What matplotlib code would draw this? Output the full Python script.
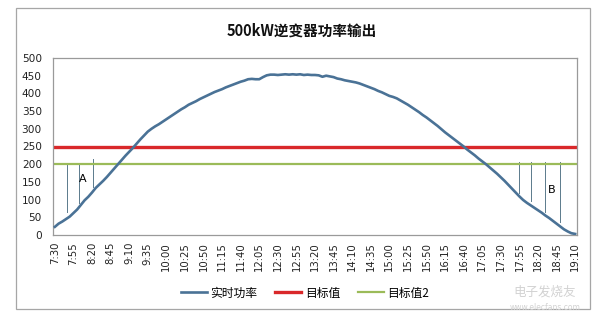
import matplotlib
matplotlib.use("Agg")
import matplotlib.pyplot as plt
from matplotlib.patches import Rectangle

plt.rcParams['font.family'] = ['Noto Sans CJK SC', 'DejaVu Sans']

# 5-minute samples from 7:30 to 19:10
times = []
for m in range(7 * 60 + 30, 19 * 60 + 10 + 1, 5):
    times.append(f"{m // 60}:{m % 60:02d}")

power = [
    23, 32, 38, 45, 52, 62, 72, 85, 98, 108,
    120, 133, 143, 153, 164, 176, 188, 200, 212, 224,
    235, 246, 258, 270, 281, 292, 300, 307, 313, 320,
    327, 334, 341, 348, 355, 361, 368, 373, 378, 384,
    389, 394, 399, 404, 408, 412, 417, 421, 425, 429,
    433, 436, 440, 441, 440, 440, 446, 451, 453, 453,
    452, 453, 454, 453, 454, 453, 454, 452, 453, 452,
    452, 451, 447, 450, 448, 446, 442, 440, 437, 435,
    433, 431, 428, 424, 420, 416, 412, 407, 403, 398,
    393, 390, 386, 380, 374, 368, 361, 354, 347, 339,
    332, 324, 316, 308, 299, 290, 282, 274, 266, 258,
    250, 241, 233, 225, 216, 208, 200, 191, 182, 173,
    163, 153, 142, 131, 120, 109, 99, 91, 84, 77,
    70, 63, 55, 48, 40, 32, 24, 16, 10, 5,
    3,
]
target = 250
target2 = 200

# shaded-area hint strokes (category position, bottom, top)
strokes_a = [(3.3, 66, 204), (6.5, 90, 202), (10.3, 136, 214)]
strokes_b = [(124.9, 118, 207), (128.1, 97, 207), (131.9, 64, 207), (135.9, 38, 207)]

series_names = ["实时功率", "目标值", "目标值2"]
title = "500kW逆变器功率输出"

W, H = 606, 326
fig = plt.figure(figsize=(W / 100, H / 100), dpi=100)
fig.patch.set_facecolor("white")

# outer chart frame
fig.add_artist(Rectangle((16 / W, 1 - 309 / H), (590 - 16) / W, (309 - 8) / H,
                         transform=fig.transFigure, fill=False,
                         edgecolor="#a6a6a6", linewidth=0.9))

ax = fig.add_axes([53 / W, 1 - 235 / H, (577 - 53) / W, (235 - 58) / H])
x = list(range(len(power)))

ax.plot(x, power, color="#4a7296", linewidth=1.9, label=series_names[0], zorder=3)
ax.plot([x[0] - 0.5, x[-1] + 0.5], [target, target], color="#d9282a",
        linewidth=2.4, label=series_names[1], zorder=2)
ax.plot([x[0] - 0.5, x[-1] + 0.5], [target2, target2], color="#9bbb59",
        linewidth=1.6, label=series_names[2], zorder=2)

for xs, lo, hi in strokes_a + strokes_b:
    ax.plot([xs, xs], [lo, hi], color="#5b7a8c", linewidth=0.7, zorder=1)

ax.text(7.6, 158, "A", fontsize=8, ha="center", va="center", family="DejaVu Sans")
ax.text(133.7, 127, "B", fontsize=8, ha="center", va="center", family="DejaVu Sans")

ax.set_xlim(-0.5, len(power) - 0.5)
ax.set_ylim(0, 500)
ax.set_yticks(range(0, 501, 50))
ax.set_xticks(x[::5])
ax.set_xticklabels(times[::5], rotation=90, fontsize=7.3, family="DejaVu Sans")
for lab in ax.get_yticklabels():
    lab.set_family("DejaVu Sans")
ax.tick_params(axis="y", length=0, pad=8, labelsize=7.6, colors="#222222")
ax.tick_params(axis="x", length=0, pad=5, colors="#222222")
for s in ax.spines.values():
    s.set_color("#9a9a9a")
    s.set_linewidth(0.9)

fig.text(302 / W, 1 - 31 / H, title, fontsize=10.5, fontweight="bold",
         ha="center", va="center", color="#111111")

leg = fig.legend(loc="center", bbox_to_anchor=(305 / W, 1 - 293 / H), ncol=3,
                 frameon=False, fontsize=8.5, handlelength=2.2, handletextpad=0.3,
                 columnspacing=1.5)

# site watermark
fig.text(545 / W, 1 - 292 / H, "电子发烧友", fontsize=9, color="#d2d2d2",
         ha="center", va="center", style="italic")
fig.text(545 / W, 1 - 307 / H, "www.elecfans.com", fontsize=5.5, color="#d2d2d2",
         ha="center", va="center", family="DejaVu Sans")

fig.savefig("out.png", dpi=100)
